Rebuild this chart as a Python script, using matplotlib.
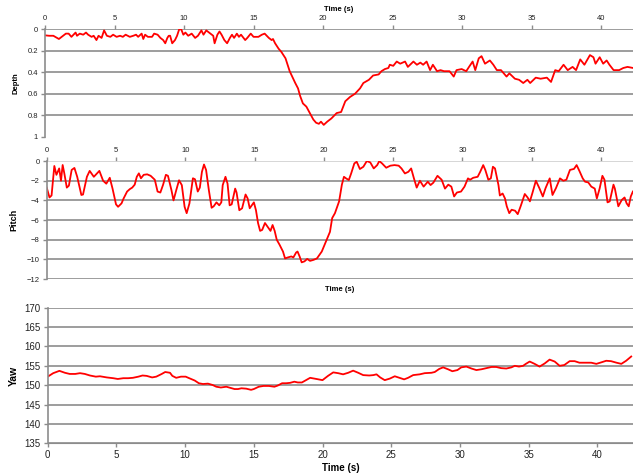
import numpy as np
import matplotlib
matplotlib.use('Agg')
import matplotlib.pyplot as plt

# --- 1. Data ---

depth_t = [0.0, 0.3, 0.6, 0.8, 1.0, 1.2, 1.5, 1.7, 1.9, 2.05, 2.2, 2.3, 2.5, 2.75, 2.95, 3.1,
           3.35, 3.5, 3.7, 3.85, 4.07, 4.25, 4.45, 4.7, 4.9, 5.15, 5.4, 5.6, 5.8, 6.1, 6.35,
           6.55, 6.7, 6.95, 7.07, 7.2, 7.4, 7.7, 7.85, 8.1, 8.3, 8.5, 8.65, 8.8, 8.9, 9.0,
           9.15, 9.35, 9.5, 9.65, 9.8, 9.95, 10.1, 10.3, 10.55, 10.8, 11.0, 11.25, 11.4, 11.6,
           11.8, 12.0, 12.1, 12.2, 12.4, 12.55, 12.7, 12.9, 13.1, 13.3, 13.45, 13.6, 13.8,
           13.95, 14.1, 14.4, 14.55, 14.8, 15.0, 15.35, 15.6, 15.8, 16.1, 16.3, 16.4, 16.55,
           16.8, 17.0, 17.3, 17.5, 17.6, 17.85, 18.0, 18.2, 18.35, 18.55, 18.8, 19.05, 19.3,
           19.5, 19.7, 19.85, 20.05, 20.3, 20.6, 20.98, 21.3, 21.6, 21.94, 22.3, 22.66, 22.9,
           23.3, 23.6, 24.0, 24.2, 24.45, 24.7, 24.8, 25.05, 25.3, 25.55, 25.9, 26.1, 26.5,
           26.75, 27.0, 27.2, 27.45, 27.7, 27.9, 28.2, 28.45, 28.7, 29.1, 29.4, 29.6, 29.97,
           30.3, 30.5, 30.76, 30.95, 31.2, 31.4, 31.65, 32.0, 32.25, 32.5, 32.8, 33.2, 33.4,
           33.8, 34.1, 34.4, 34.7, 34.9, 35.3, 35.65, 36.1, 36.4, 36.7, 36.95, 37.3, 37.6,
           37.95, 38.2, 38.5, 38.8, 39.2, 39.45, 39.6, 39.9, 40.15, 40.4, 40.6, 40.9, 41.3,
           41.6, 41.9, 42.3]
depth_v = [0.056, 0.06, 0.06, 0.075, 0.09, 0.07, 0.04, 0.04, 0.07, 0.05, 0.03, 0.06, 0.04, 0.05,
           0.03, 0.05, 0.07, 0.06, 0.10, 0.06, 0.08, 0.01, 0.06, 0.07, 0.05, 0.07, 0.06, 0.07,
           0.05, 0.07, 0.06, 0.05, 0.07, 0.04, 0.09, 0.05, 0.07, 0.07, 0.04, 0.05, 0.08, 0.10,
           0.13, 0.08, 0.06, 0.06, 0.13, 0.10, 0.06, 0.0, 0.0, 0.05, 0.03, 0.06, 0.04, 0.08,
           0.06, 0.01, 0.05, 0.01, 0.03, 0.05, 0.06, 0.13, 0.05, 0.02, 0.05, 0.10, 0.13, 0.08,
           0.05, 0.08, 0.04, 0.07, 0.05, 0.10, 0.08, 0.04, 0.07, 0.07, 0.05, 0.04, 0.08, 0.10,
           0.09, 0.13, 0.18, 0.21, 0.27, 0.35, 0.39, 0.46, 0.50, 0.55, 0.62, 0.69, 0.72, 0.78,
           0.84, 0.87, 0.88, 0.86, 0.89, 0.86, 0.83, 0.78, 0.77, 0.67, 0.63, 0.60, 0.55, 0.50,
           0.47, 0.43, 0.42, 0.39, 0.37, 0.36, 0.33, 0.34, 0.30, 0.32, 0.30, 0.35, 0.30, 0.33,
           0.31, 0.33, 0.30, 0.38, 0.33, 0.39, 0.38, 0.39, 0.39, 0.44, 0.38, 0.37, 0.39, 0.35,
           0.30, 0.38, 0.27, 0.25, 0.32, 0.29, 0.33, 0.38, 0.38, 0.44, 0.41, 0.46, 0.47, 0.50,
           0.47, 0.50, 0.45, 0.46, 0.45, 0.49, 0.38, 0.39, 0.33, 0.38, 0.35, 0.38, 0.28, 0.33,
           0.24, 0.26, 0.32, 0.26, 0.32, 0.29, 0.33, 0.38, 0.38, 0.36, 0.35, 0.36]

pitch_t = [0.0, 0.2, 0.35, 0.55, 0.7, 0.9, 1.03, 1.15, 1.27, 1.45, 1.6, 1.8, 2.0, 2.2, 2.5, 2.62,
           2.9, 3.1, 3.4, 3.8, 4.07, 4.3, 4.55, 4.75, 5.0, 5.15, 5.4, 5.55, 5.8, 6.0, 6.17,
           6.35, 6.5, 6.65, 6.8, 7.0, 7.25, 7.5, 7.8, 8.0, 8.2, 8.4, 8.6, 8.75, 9.0, 9.15,
           9.35, 9.55, 9.75, 9.95, 10.1, 10.3, 10.55, 10.7, 10.9, 11.05, 11.2, 11.35, 11.5,
           11.7, 11.9, 12.05, 12.25, 12.45, 12.6, 12.7, 12.9, 13.05, 13.2, 13.35, 13.6, 13.7,
           13.9, 14.1, 14.35, 14.5, 14.65, 14.85, 14.95, 15.1, 15.25, 15.4, 15.55, 15.75, 16.0,
           16.15, 16.3, 16.45, 16.6, 16.8, 17.05, 17.2, 17.4, 17.65, 17.8, 18.0, 18.1, 18.25,
           18.4, 18.6, 18.8, 19.0, 19.25, 19.5, 19.85, 20.2, 20.44, 20.6, 20.8, 21.1, 21.3,
           21.45, 21.6, 21.8, 21.97, 22.2, 22.37, 22.6, 22.85, 23.1, 23.35, 23.6, 23.85, 24.0,
           24.2, 24.5, 24.8, 25.1, 25.4, 25.6, 25.85, 26.1, 26.3, 26.5, 26.7, 26.93, 27.2,
           27.5, 27.7, 27.9, 28.2, 28.5, 28.74, 28.98, 29.2, 29.4, 29.6, 29.9, 30.15, 30.4,
           30.55, 30.78, 31.1, 31.28, 31.5, 31.65, 31.87, 32.05, 32.2, 32.35, 32.6, 32.7, 32.9,
           33.07, 33.2, 33.38, 33.55, 33.8, 33.99, 34.2, 34.5, 34.7, 34.87, 35.05, 35.3, 35.55,
           35.8, 36.0, 36.3, 36.5, 36.75, 37.04, 37.28, 37.5, 37.76, 38.05, 38.24, 38.44,
           38.68, 38.85, 39.08, 39.3, 39.55, 39.7, 39.9, 40.1, 40.25, 40.47, 40.63, 40.9, 41.0,
           41.25, 41.5, 41.7, 41.85, 42.0, 42.15, 42.3]
pitch_v = [-2.7, -3.7, -3.5, -0.5, -1.4, -0.75, -2.0, -0.4, -1.25, -2.7, -2.5, -0.9, -0.7, -1.6,
           -3.45, -3.4, -1.6, -1.0, -1.6, -1.0, -2.0, -2.3, -1.7, -2.8, -4.4, -4.65, -4.3, -3.8,
           -3.1, -2.85, -2.7, -2.4, -1.6, -1.25, -1.75, -1.4, -1.35, -1.5, -1.9, -3.1, -3.2,
           -2.4, -1.4, -1.5, -2.95, -4.0, -2.95, -1.95, -2.45, -4.65, -5.3, -4.3, -1.75, -1.85,
           -3.1, -2.7, -1.1, -0.35, -0.9, -2.95, -4.75, -4.6, -4.2, -4.5, -4.2, -2.45, -1.6,
           -2.3, -4.5, -4.4, -2.8, -3.2, -5.0, -4.8, -3.4, -3.8, -4.8, -4.4, -4.2, -5.0, -6.3,
           -7.1, -7.0, -6.3, -6.8, -7.1, -6.5, -7.1, -8.0, -8.5, -9.2, -9.9, -9.8, -9.7, -9.8,
           -9.3, -9.2, -9.7, -10.3, -10.2, -9.95, -10.15, -10.05, -9.9, -9.2, -8.0, -7.2, -5.8,
           -5.3, -4.1, -2.4, -1.6, -1.76, -1.93, -1.26, -0.24, -0.07, -0.81, -0.58, 0.0, -0.14,
           -0.75, -0.41, 0.0, -0.24, -0.68, -0.47, -0.41, -0.47, -0.75, -1.26, -1.09, -0.75,
           -1.76, -2.7, -2.0, -2.6, -2.1, -2.44, -2.2, -1.5, -1.9, -2.8, -2.4, -2.6, -3.6, -3.2,
           -3.1, -2.6, -1.76, -1.9, -1.7, -1.6, -1.1, -0.41, -0.9, -1.9, -1.76, -0.58, -0.75,
           -2.44, -3.5, -3.3, -3.8, -4.6, -5.3, -4.95, -5.05, -5.4, -4.6, -3.35, -3.7, -4.1,
           -3.25, -2.0, -2.75, -3.6, -2.75, -1.76, -3.45, -2.75, -1.76, -2.0, -1.9, -0.9, -0.8,
           -0.41, -1.0, -1.76, -2.1, -2.17, -2.6, -2.8, -3.8, -2.8, -1.5, -1.9, -4.2, -4.1,
           -2.4, -2.8, -4.6, -3.95, -3.7, -4.3, -4.6, -3.6, -3.1]

yaw_t = [0, 0.4, 0.85, 1.25, 1.6, 2.0, 2.35, 2.7, 3.07, 3.5, 3.8, 4.3, 4.77, 5.1, 5.5, 5.85, 6.2,
         6.6, 6.9, 7.2, 7.6, 7.9, 8.3, 8.55, 8.9, 9.07, 9.35, 9.7, 10.04, 10.3, 10.7, 11.0,
         11.3, 11.66, 12.0, 12.27, 12.6, 13.0, 13.2, 13.6, 13.85, 14.1, 14.45, 14.8, 15.0,
         15.36, 15.7, 16.1, 16.5, 16.74, 17.06, 17.35, 17.64, 17.95, 18.2, 18.5, 18.8, 19.1,
         19.56, 20.0, 20.4, 20.78, 21.14, 21.5, 21.87, 22.23, 22.6, 22.96, 23.4, 23.7, 23.93,
         24.2, 24.53, 24.9, 25.26, 25.6, 25.94, 26.23, 26.6, 27.08, 27.44, 27.93, 28.17, 28.5,
         28.78, 29.14, 29.45, 29.82, 30.1, 30.47, 30.84, 31.2, 31.56, 31.93, 32.3, 32.65, 33.0,
         33.38, 33.75, 34.0, 34.3, 34.6, 34.8, 35.08, 35.44, 35.8, 36.17, 36.53, 36.9, 37.26,
         37.6, 37.99, 38.35, 38.7, 39.08, 39.56, 39.93, 40.3, 40.65, 41.0, 41.4, 41.75, 42.1,
         42.47]
yaw_v = [152.2, 153.1, 153.7, 153.2, 152.9, 152.9, 153.1, 152.9, 152.5, 152.2, 152.3, 152.0,
         151.8, 151.6, 151.8, 151.8, 151.9, 152.2, 152.5, 152.4, 152.0, 152.2, 152.9, 153.4,
         153.2, 152.4, 151.9, 152.2, 152.2, 151.8, 151.2, 150.5, 150.3, 150.4, 150.05, 149.6,
         149.4, 149.6, 149.4, 149.0, 149.0, 149.2, 149.1, 148.8, 149.0, 149.6, 149.8, 149.8,
         149.6, 149.9, 150.5, 150.5, 150.6, 150.9, 150.7, 150.7, 151.3, 151.9, 151.6, 151.3,
         152.4, 153.3, 153.1, 152.8, 153.2, 153.75, 153.2, 152.6, 152.5, 152.6, 152.8, 152.0,
         151.3, 151.7, 152.3, 151.9, 151.5, 151.9, 152.6, 152.8, 153.1, 153.2, 153.4, 154.2,
         154.6, 154.1, 153.6, 153.9, 154.6, 154.8, 154.3, 153.9, 154.1, 154.4, 154.7, 154.7,
         154.4, 154.3, 154.6, 155.0, 154.8, 155.0, 155.5, 156.1, 155.5, 154.8, 155.6, 156.6,
         156.1, 155.0, 155.2, 156.2, 156.2, 155.8, 155.8, 155.8, 155.5, 155.9, 156.3, 156.2,
         155.8, 155.5, 156.3, 157.4]

time_ticks = [0, 5, 10, 15, 20, 25, 30, 35, 40]
depth_ticks = [0, 0.2, 0.4, 0.6, 0.8, 1]
depth_labels = ['0', '0.2', '0.4', '0.6', '0.8', '1']
pitch_ticks = [0, -2, -4, -6, -8, -10, -12]
yaw_ticks = [135, 140, 145, 150, 155, 160, 165, 170]

# --- 2. Figure setup ---

plt.rcParams['font.family'] = ['Liberation Sans', 'DejaVu Sans']
LINE_RED = '#ff0000'
GRID = '#8c8c8c'

fig = plt.figure(figsize=(6.33, 4.73), dpi=100)
ax_d = fig.add_axes([0.0711, 0.711, 0.929, 0.227])
ax_p = fig.add_axes([0.0738, 0.410, 0.926, 0.2495])
ax_y = fig.add_axes([0.0754, 0.0628, 0.9246, 0.2867])


def style_axes(ax, tick_size):
    for side in ['right', 'top', 'bottom']:
        ax.spines[side].set_visible(False)
    ax.spines['left'].set_color(GRID)
    ax.spines['left'].set_linewidth(1.2)
    ax.yaxis.grid(True, color=GRID, linewidth=1.2)
    ax.set_axisbelow(True)
    ax.tick_params(axis='both', colors=GRID, labelcolor='#222222', labelsize=tick_size,
                   length=3, width=1, pad=2)


# --- 3. Depth ---
style_axes(ax_d, 5.5)
ax_d.plot(depth_t, depth_v, color=LINE_RED, linewidth=1.3)
ax_d.set_xlim(0, 42.3)
ax_d.set_ylim(1, 0)
ax_d.set_yticks(depth_ticks)
ax_d.set_yticklabels(depth_labels)
ax_d.set_xticks(time_ticks)
ax_d.xaxis.tick_top()
ax_d.xaxis.set_label_position('top')
ax_d.set_xlabel('Time (s)', fontsize=5.5, fontweight='bold', labelpad=3)
ax_d.set_ylabel('Depth', fontsize=5.5, fontweight='bold', labelpad=6)
ax_d.get_ygridlines()[-1].set_visible(False)

# --- 4. Pitch ---
style_axes(ax_p, 5.5)
ax_p.plot(pitch_t, pitch_v, color=LINE_RED, linewidth=1.3)
ax_p.set_xlim(0, 42.3)
ax_p.set_ylim(-12, 0)
ax_p.set_yticks(pitch_ticks)
ax_p.set_xticks(time_ticks)
ax_p.xaxis.tick_top()
ax_p.set_xlabel('Time (s)', fontsize=5.5, fontweight='bold', labelpad=5)
ax_p.set_ylabel('Pitch', fontsize=6.5, fontweight='bold', labelpad=6)
ax_p.get_ygridlines()[0].set_color('#d0d0d0')

# --- 5. Yaw ---
style_axes(ax_y, 7)
ax_y.spines['bottom'].set_visible(True)
ax_y.spines['bottom'].set_color(GRID)
ax_y.plot(yaw_t, yaw_v, color=LINE_RED, linewidth=1.3)
ax_y.set_xlim(0, 42.6)
ax_y.set_ylim(135, 170)
ax_y.set_yticks(yaw_ticks)
ax_y.set_xticks(time_ticks)
ax_y.set_xlabel('Time (s)', fontsize=7, fontweight='bold', labelpad=2)
ax_y.set_ylabel('Yaw', fontsize=7.5, fontweight='bold', labelpad=4)

fig.savefig('out.png', dpi=100)
